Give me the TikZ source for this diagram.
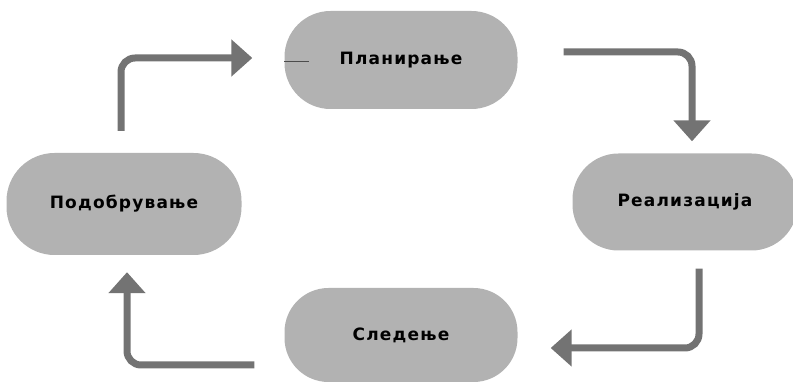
\documentclass[tikz,border=0pt]{standalone}
\usepackage{fontspec}
\setmainfont{DejaVu Sans}
\usetikzlibrary{arrows.meta}

\begin{document}
\begin{tikzpicture}[
  x=1pt, y=1pt,
  phase/.style={draw=none,fill=black!30,rounded corners=46pt,
    minimum width=233pt,minimum height=98pt,inner sep=0pt,
    font=\bfseries\fontsize{17}{20}\selectfont\addfontfeature{LetterSpace=7}},
  cyclearrow/.style={draw=black!55,line width=7pt,rounded corners=14pt,
    -{Triangle[width=36pt,length=21pt]}}
]
  \useasboundingbox (0,0) rectangle (793,383);

  % the four phases
  \node[phase] (plan) at (401,323) {Планирање};
  \node[phase,minimum width=225pt,minimum height=97pt,rounded corners=46pt] (real) at (685,181) {Реализација};
  \node[phase,minimum height=94pt,rounded corners=44pt] (sled) at (401,48) {Следење};
  \node[phase,minimum width=235pt,minimum height=102pt,rounded corners=48pt] (pod) at (124,179) {Подобрување};

  \draw[black!70,line width=1pt] ([yshift=-2pt]plan.west) -- ++(25,0);

  % cycle
  \draw[cyclearrow] ([shift={(-3,22)}]pod.north) |- ([xshift=-32pt,yshift=2pt]plan.west);
  \draw[cyclearrow] ([shift={(46,8)}]plan.east) -| ([shift={(7,12)}]real.north);
  \draw[cyclearrow] ([shift={(14,-18)}]real.south) |- ([shift={(33,-13)}]sled.east);
  \draw[cyclearrow] ([shift={(-30,-30)}]sled.west) -| ([shift={(3,-17)}]pod.south);
\end{tikzpicture}
\end{document}
